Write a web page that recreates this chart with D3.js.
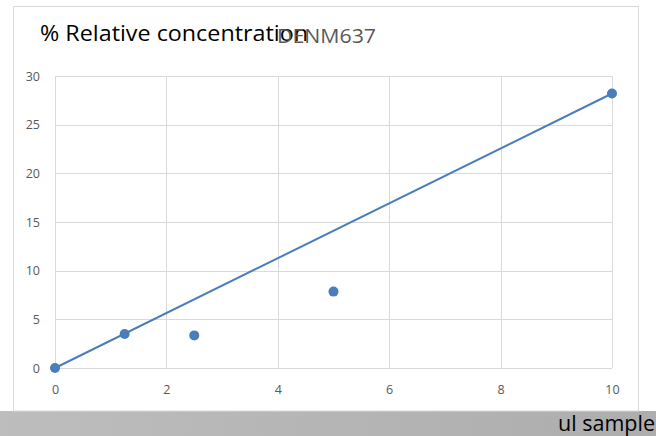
<!DOCTYPE html>
<html>
<head>
<meta charset="utf-8">
<script src="https://cdn.jsdelivr.net/npm/d3@7"></script>
<style>
  html, body { margin: 0; padding: 0; background: #fff; }
  svg { display: block; }
</style>
</head>
<body>
<svg id="chart" width="656" height="436"></svg>
<script>
// Sample volume (ul) and measured relative concentration (%)
const sampleVolume = [0, 1.25, 2.5, 5, 10];
const relConcentration = [0, 3.5, 3.35, 7.85, 28.2];
// Fitted line endpoints
const fitX = [0, 10];
const fitY = [0, 28.2];
const xTicks = [0, 2, 4, 6, 8, 10];
const yTicks = [0, 5, 10, 15, 20, 25, 30];
const titleText = "% Relative concentration";
const seriesName = "DENM637";
const xAxisTitle = "ul sample";

const W = 656, H = 436;
const svg = d3.select("#chart");
const font = "'Open Sans', 'Noto Sans', sans-serif";

// Bottom band with gradient
const defs = svg.append("defs");
const grad = defs.append("linearGradient").attr("id", "band").attr("x1", 0).attr("x2", 1);
grad.append("stop").attr("offset", 0).attr("stop-color", "#bdbdbd");
grad.append("stop").attr("offset", 1).attr("stop-color", "#adadad");
svg.append("rect").attr("x", 0).attr("y", 411).attr("width", W).attr("height", H - 411)
  .attr("fill", "url(#band)");

// Chart area frame
svg.append("rect").attr("x", 13.5).attr("y", 6.5).attr("width", 625).attr("height", 404.5)
  .attr("fill", "#fff").attr("stroke", "#d9d9d9").attr("stroke-width", 1);

const plot = { left: 55, right: 612, top: 76, bottom: 368 };
const x = d3.scaleLinear().domain([0, 10]).range([plot.left, plot.right]);
const y = d3.scaleLinear().domain([0, 30]).range([plot.bottom, plot.top]);

// Gridlines
const g = svg.append("g");
g.selectAll(".hg").data(yTicks).join("line")
  .attr("x1", plot.left).attr("x2", plot.right)
  .attr("y1", d => Math.round(y(d)) + 0.5).attr("y2", d => Math.round(y(d)) + 0.5)
  .attr("stroke", "#d9d9d9").attr("stroke-width", 1);
g.selectAll(".vg").data(xTicks).join("line")
  .attr("y1", plot.top).attr("y2", plot.bottom)
  .attr("x1", d => Math.round(x(d)) + 0.5).attr("x2", d => Math.round(x(d)) + 0.5)
  .attr("stroke", "#d9d9d9").attr("stroke-width", 1);

// Axes (labels only)
const yAxis = d3.axisLeft(y).tickValues(yTicks).tickSize(0).tickPadding(15);
const xAxis = d3.axisBottom(x).tickValues(xTicks).tickSize(0).tickPadding(17);
const ya = svg.append("g").attr("transform", `translate(${plot.left},0)`).call(yAxis);
const xa = svg.append("g").attr("transform", `translate(0,${plot.bottom})`).call(xAxis);
[ya, xa].forEach(a => {
  a.select(".domain").remove();
  a.selectAll("text").attr("fill", "#595959").style("font-family", font).style("font-size", "12.5px");
});

// Fitted line
svg.append("path")
  .datum(fitX.map((v, i) => [v, fitY[i]]))
  .attr("d", d3.line().x(d => x(d[0])).y(d => y(d[1])))
  .attr("fill", "none").attr("stroke", "#4a7ebb").attr("stroke-width", 2);

// Points
svg.selectAll(".pt").data(sampleVolume.map((v, i) => [v, relConcentration[i]])).join("circle")
  .attr("cx", d => x(d[0])).attr("cy", d => y(d[1])).attr("r", 5)
  .attr("fill", "#4a7ebb");

// Titles
svg.append("text").attr("x", 40).attr("y", 41).text(titleText)
  .attr("textLength", 268).attr("lengthAdjust", "spacingAndGlyphs")
  .attr("fill", "#000").style("font-family", font).style("font-size", "22px");
svg.append("text").attr("x", 277).attr("y", 43).text(seriesName)
  .attr("textLength", 99).attr("lengthAdjust", "spacingAndGlyphs")
  .attr("fill", "#595959").style("font-family", font).style("font-size", "20.5px");
svg.append("text").attr("x", 655).attr("y", 431).attr("text-anchor", "end").text(xAxisTitle)
  .attr("fill", "#000").style("font-family", font).style("font-size", "21.5px");
</script>
</body>
</html>
